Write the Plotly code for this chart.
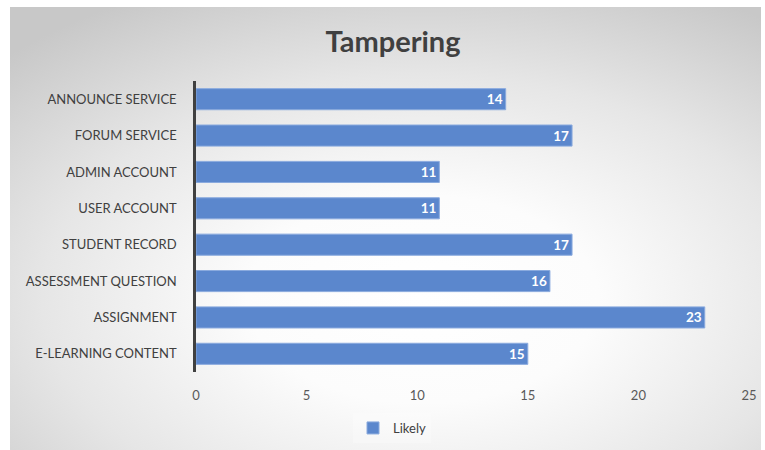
import base64
import plotly.graph_objects as go

# Assets under tampering threat, listed bottom to top
categories = [
    "E-LEARNING CONTENT",
    "ASSIGNMENT",
    "ASSESSMENT QUESTION",
    "STUDENT RECORD",
    "USER ACCOUNT",
    "ADMIN ACCOUNT",
    "FORUM SERVICE",
    "ANNOUNCE SERVICE",
]
likely = [15, 23, 16, 17, 11, 11, 17, 14]
x_ticks = [0, 5, 10, 15, 20, 25]

W, H = 765, 450
ML, MR, MT, MB = 196, 16, 81, 78
PW, PH = W - ML - MR, H - MT - MB
FONT = "Lato"


def px_x(px):
    # pixel column -> paper x
    return (px - ML) / PW


def px_y(py):
    # pixel row (from top) -> paper y
    return (H - MB - py) / PH


# Radial grey gradient for the chart panel
svg = (
    '<svg xmlns="http://www.w3.org/2000/svg" width="751" height="443" viewBox="0 0 751 443" preserveAspectRatio="none">'
    '<defs><radialGradient id="g" cx="0.55" cy="0.66" r="0.78" gradientUnits="objectBoundingBox">'
    '<stop offset="0" stop-color="#ffffff"/>'
    '<stop offset="0.3" stop-color="#fcfcfc"/>'
    '<stop offset="0.65" stop-color="#e6e6e6"/>'
    '<stop offset="1" stop-color="#c8c8c8"/>'
    '</radialGradient></defs>'
    '<rect x="0" y="0" width="751" height="443" fill="url(#g)"/>'
    '</svg>'
)
bg_src = "data:image/svg+xml;base64," + base64.b64encode(svg.encode()).decode()

fig = go.Figure()
fig.add_trace(go.Bar(
    y=categories,
    x=likely,
    orientation="h",
    name="Likely",
    marker=dict(color="#5b87cd", line=dict(color="#8aaade", width=1)),
    width=0.58,
    text=[str(v) for v in likely],
    textposition="inside",
    insidetextanchor="end",
    textangle=0,
    constraintext="none",
    textfont=dict(family=FONT, size=13.5, color="white", weight="bold"),
    cliponaxis=False,
))

fig.update_layout(
    width=W,
    height=H,
    margin=dict(l=ML, r=MR, t=MT, b=MB, autoexpand=False),
    paper_bgcolor="white",
    plot_bgcolor="rgba(0,0,0,0)",
    font=dict(family=FONT, color="#404040", size=13),
    title=dict(
        text="<b>Tampering</b>",
        x=393 / W, xanchor="center",
        y=1 - 42 / H, yanchor="middle",
        font=dict(family=FONT, size=29, color="#404040"),
    ),
    xaxis=dict(
        range=[0, 25],
        tickvals=x_ticks,
        showgrid=False,
        zeroline=False,
        showline=False,
        ticks="",
        ticklabelstandoff=14,
        tickfont=dict(size=13, color="#595959"),
        automargin=False,
        fixedrange=True,
    ),
    yaxis=dict(
        categoryorder="array",
        categoryarray=categories,
        showgrid=False,
        zeroline=False,
        showline=True,
        linecolor="#404040",
        linewidth=2.5,
        ticks="",
        ticklabelstandoff=14,
        tickfont=dict(size=13, color="#404040"),
        automargin=False,
        fixedrange=True,
    ),
    showlegend=True,
    legend=dict(
        orientation="h",
        xref="container", yref="container",
        x=392 / W, xanchor="center",
        y=1 - 428 / H, yanchor="middle",
        bgcolor="rgba(255,255,255,0.25)",
        font=dict(size=13, color="#404040"),
        itemwidth=30,
    ),
    images=[dict(
        source=bg_src,
        xref="paper", yref="paper",
        x=px_x(10),
        y=px_y(7),
        sizex=751 / PW,
        sizey=443 / PH,
        xanchor="left", yanchor="top",
        sizing="stretch",
        layer="below",
    )],
)

fig.write_html("out.html")
